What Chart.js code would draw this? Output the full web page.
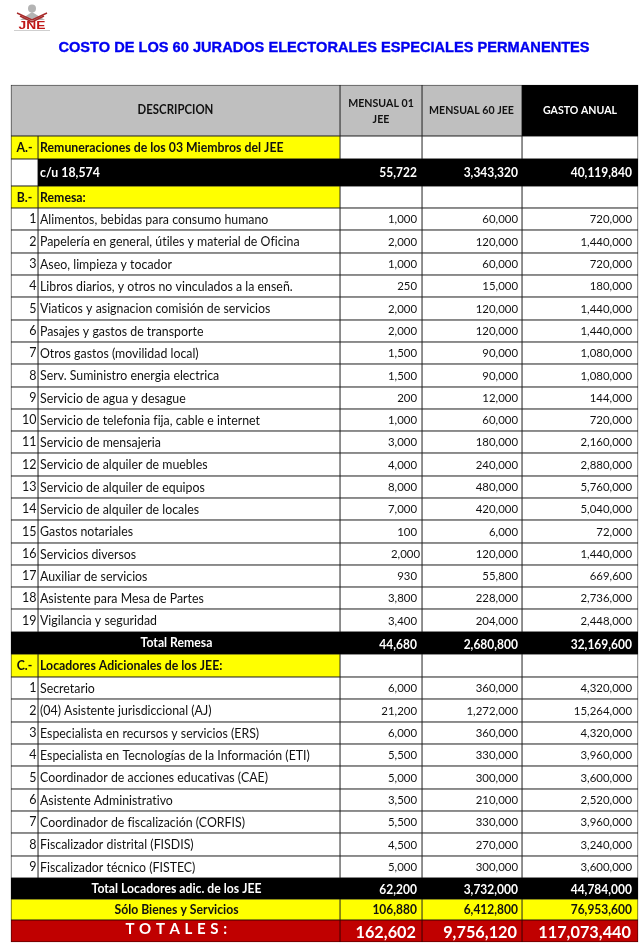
<!DOCTYPE html>
<html><head><meta charset="utf-8">
<style>html,body{margin:0;padding:0;background:#fff}canvas{display:block}</style>
<script src="https://cdn.jsdelivr.net/npm/chart.js@4"></script>
</head><body><canvas id="c" width="640" height="952"></canvas>
<script>
const titleText = 'COSTO DE LOS 60 JURADOS ELECTORALES ESPECIALES PERMANENTES';
const columnHeaders = [['MENSUAL 01','JEE'],['MENSUAL 60 JEE'],['GASTO ANUAL']];
const rowNumbers = ['','A.-','','B.-','1','2','3','4','5','6','7','8','9','10','11','12','13','14','15','16','17','18','19','','C.-','1','2','3','4','5','6','7','8','9','','',''];
const rowLabels = ['DESCRIPCION','Remuneraciones de los 03 Miembros del JEE','c/u 18,574','Remesa:',
'Alimentos, bebidas para consumo humano','Papelería en general, útiles y material de Oficina','Aseo, limpieza y tocador','Libros diarios, y otros no vinculados a la enseñ.','Viaticos y asignacion comisión de servicios','Pasajes y gastos de transporte','Otros gastos (movilidad local)','Serv. Suministro energia electrica','Servicio de agua y desague','Servicio de telefonia fija, cable e internet','Servicio de mensajeria','Servicio de alquiler de muebles','Servicio de alquiler de equipos','Servicio de alquiler de locales','Gastos notariales','Servicios diversos','Auxiliar de servicios','Asistente para Mesa de Partes','Vigilancia y seguridad',
'Total Remesa','Locadores Adicionales de los JEE:',
'Secretario','(04) Asistente jurisdiccional (AJ)','Especialista en recursos y servicios (ERS)','Especialista en Tecnologías de la Información (ETI)','Coordinador de acciones educativas (CAE)','Asistente Administrativo','Coordinador de fiscalización (CORFIS)','Fiscalizador distrital (FISDIS)','Fiscalizador técnico (FISTEC)',
'Total Locadores adic. de los JEE','Sólo Bienes y Servicios','T O T A L E S :'];
const monthly01 = [null,null,55722,null,1000,2000,1000,250,2000,2000,1500,1500,200,1000,3000,4000,8000,7000,100,2000,930,3800,3400,44680,null,6000,21200,6000,5500,5000,3500,5500,4500,5000,62200,106880,162602];
const monthly60 = [null,null,3343320,null,60000,120000,60000,15000,120000,120000,90000,90000,12000,60000,180000,240000,480000,420000,6000,120000,55800,228000,204000,2680800,null,360000,1272000,360000,330000,300000,210000,330000,270000,300000,3732000,6412800,9756120];
const annual = [null,null,40119840,null,720000,1440000,720000,180000,1440000,1440000,1080000,1080000,144000,720000,2160000,2880000,5760000,5040000,72000,1440000,669600,2736000,2448000,32169600,null,4320000,15264000,4320000,3960000,3600000,2520000,3960000,3240000,3600000,44784000,76953600,117073440];
const rowKinds = ['head','sec','black','sec',...Array(19).fill('item'),'black2','sec',...Array(9).fill('item'),'black2','yellow','red'];
const rowEdges = [85,136,159,186,208,230,253,275,297,320,342,364,387,409,431,453,476,498,520,543,565,587,609,632,654,677,699,722,744,766,789,811,833,856,878,899,920,942];
const colEdges = [11,38,340,422,522,638];

const GREY='#BFBFBF',YEL='#FFFF00',BLK='#000000',WHT='#FFFFFF',RED='#C00000';
const rowIdx = rowLabels.map((_,i)=>i);
const cellColor = (i,c)=>{
  const k=rowKinds[i];
  if(k==='head') return c===4?BLK:GREY;
  if(k==='sec') return c<2?YEL:WHT;
  if(k==='black') return c===0?WHT:BLK;
  if(k==='black2') return BLK;
  if(k==='yellow') return YEL;
  if(k==='red') return RED;
  return WHT;
};
const merged = i=>['head','black2','yellow','red'].includes(rowKinds[i]);
const mid=(a,b)=>(a+b)/2;
function cellSet(c0,c1,rows,colorCol){
  const dark = rows.map(i=>{const col=cellColor(i,colorCol);return col===BLK?BLK:col===RED?'#3a0000':'#222222';});
  return {
    label:'col'+c0,
    barThickness:colEdges[c1]-colEdges[c0],
    data:rows.map(i=>({x:mid(colEdges[c0],colEdges[c1]),y:[rowEdges[i],rowEdges[i+1]]})),
    backgroundColor:rows.map(i=>cellColor(i,colorCol)),
    borderColor:dark,
    borderWidth:0.8,
    borderSkipped:false,
    stack:'t'
  };
}
const notMerged=rowIdx.filter(i=>!merged(i)), mergedRows=rowIdx.filter(merged);
const datasets=[
  cellSet(0,1,notMerged,0),
  cellSet(1,2,notMerged,1),
  cellSet(0,2,mergedRows,1),
  cellSet(2,3,rowIdx,2),
  cellSet(3,4,rowIdx,3),
  cellSet(4,5,rowIdx,4)
];
const fmt=v=>v.toLocaleString('en-US');
const SQ=0.93;
const tableText={id:'tableText',afterDatasetsDraw(chart){
  const {ctx,scales:{x,y}}=chart;
  const put=(t,px,py,font,color,align,sx=1)=>{
    ctx.save();ctx.translate(px,py);ctx.scale(sx,1);
    ctx.font=font;ctx.fillStyle=color;ctx.textAlign=align;ctx.fillText(t,0,0);
    ctx.restore();
  };
  const tf=(w,size)=>w+' '+(size/SQ).toFixed(2)+'px Lato, Carlito, sans-serif';
  ctx.save();
  ctx.textBaseline='middle';
  ctx.letterSpacing='0.01px';
  // logo
  ctx.fillStyle='#b4b4b4';
  ctx.beginPath();ctx.arc(x.getPixelForValue(32),y.getPixelForValue(8.5),4,0,7);ctx.fill();
  ctx.beginPath();ctx.moveTo(x.getPixelForValue(20),y.getPixelForValue(20));ctx.lineTo(x.getPixelForValue(32),y.getPixelForValue(12));ctx.lineTo(x.getPixelForValue(45),y.getPixelForValue(20));ctx.closePath();ctx.fill();
  ctx.strokeStyle='#a82a2a';ctx.lineWidth=1.4;
  [[17,13,32,20,47,13],[20,16,32,22,44,16]].forEach(p=>{ctx.beginPath();ctx.moveTo(x.getPixelForValue(p[0]),y.getPixelForValue(p[1]));ctx.lineTo(x.getPixelForValue(p[2]),y.getPixelForValue(p[3]));ctx.lineTo(x.getPixelForValue(p[4]),y.getPixelForValue(p[5]));ctx.stroke();});
  put('JNE',x.getPixelForValue(32),y.getPixelForValue(25.5),'bold 11.5px "Liberation Sans"','#c01818','center',1.2);
  ctx.fillStyle='#cfcfcf';ctx.fillRect(x.getPixelForValue(14),y.getPixelForValue(30),36,1);
  // title
  ctx.strokeStyle='#0000F0';ctx.lineWidth=0.35;
  const tx=x.getPixelForValue(324),ty=y.getPixelForValue(47.5);
  put(titleText,tx,ty,'bold 14.6px "Liberation Sans"','#0000F0','center');
  ctx.font='bold 14.6px "Liberation Sans"';ctx.textAlign='center';ctx.strokeText(titleText,tx,ty);
  const cy=i=>y.getPixelForValue(mid(rowEdges[i],rowEdges[i+1]));
  const colMid=c=>x.getPixelForValue(mid(colEdges[c],colEdges[c+1]));
  // column headers
  const hb=tf('bold',10.6);
  put(rowLabels[0],x.getPixelForValue(mid(colEdges[0],colEdges[2])),cy(0),tf('bold',11.4),'#111','center',SQ);
  put(columnHeaders[0][0],colMid(2),y.getPixelForValue(103),hb,'#111','center',SQ);
  put(columnHeaders[0][1],colMid(2),y.getPixelForValue(119),hb,'#111','center',SQ);
  put(columnHeaders[1][0],colMid(3)-0.5,cy(0),hb,'#111','center',SQ);
  put(columnHeaders[2][0],colMid(4),cy(0),hb,'#fff','center',SQ);
  const rights=[417,518,632];
  for(let i=1;i<rowLabels.length;i++){
    const k=rowKinds[i];
    const big=k==='black'||k==='black2'||k==='yellow';
    const numFont=k==='red'?tf('bold',16.3):big?tf('bold',12):tf('normal',11.4);
    const numCol=(k==='black'||k==='black2'||k==='red')?'#fff':'#111';
    [monthly01,monthly60,annual].forEach((arr,c)=>{
      if(arr[i]===null)return;
      let r=rights[c];
      if(i===19&&c===0) r=420;
      if(k==='red') r-=1;
      put(fmt(arr[i]),x.getPixelForValue(r),cy(i)+(k==='red'?1.5:k==='black2'?1.5:0.5),numFont,numCol,'right',SQ);
    });
    if(merged(i)){
      const f=k==='red'?'bold 15px Lato, Carlito, sans-serif':tf('bold',12.2);
      if(k==='red') ctx.letterSpacing='0.5px';
      put(rowLabels[i],x.getPixelForValue(mid(colEdges[0],colEdges[2])+1),cy(i)-(k==='red'?1.5:0),f,numCol,'center',k==='red'?1:SQ);
      ctx.letterSpacing='0.01px';
    }else{
      if(rowNumbers[i]){
        if(k==='sec') put(rowNumbers[i],colMid(0),cy(i)+0.5,tf('bold',12.3),'#111','center',SQ);
        else put(rowNumbers[i],x.getPixelForValue(36.5),cy(i),tf('normal',12.5),'#111','right',SQ);
      }
      const bold=k==='sec'||k==='black';
      put(rowLabels[i],x.getPixelForValue(40),cy(i)+0.5,tf(bold?'bold':'normal',bold?12.3:12.35),k==='black'?'#fff':'#111','left',SQ);
    }
  }
  ctx.restore();
}};
new Chart(document.getElementById('c'),{
  type:'bar',
  data:{datasets},
  options:{
    responsive:false,animation:false,
    layout:{padding:0},
    plugins:{legend:{display:false},tooltip:{enabled:false},title:{display:false}},
    scales:{
      x:{type:'linear',min:0,max:640,stacked:true,display:false,offset:false},
      y:{type:'linear',min:0,max:952,reverse:true,stacked:false,display:false}
    }
  },
  plugins:[tableText]
});
</script></body></html>
